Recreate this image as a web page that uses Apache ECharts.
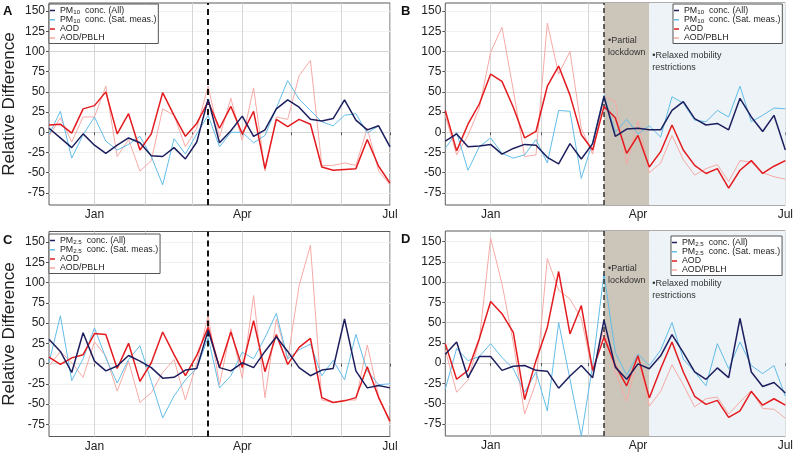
<!DOCTYPE html>
<html>
<head>
<meta charset="utf-8">
<script src="https://cdn.jsdelivr.net/npm/echarts@6/dist/echarts.min.js"></script>
<style>
html, body { margin: 0; padding: 0; background: #fff; }
#main { width: 796px; height: 456px; }
</style>
</head>
<body>
<div id="main"></div>
<script>
// weekly sample dates (x) and axis marks
var weeks = ['2019-12-04', '2019-12-11', '2019-12-18', '2019-12-25', '2020-01-01', '2020-01-08',
  '2020-01-15', '2020-01-22', '2020-01-29', '2020-02-05', '2020-02-12', '2020-02-19', '2020-02-26',
  '2020-03-04', '2020-03-11', '2020-03-18', '2020-03-25', '2020-04-01', '2020-04-08', '2020-04-15',
  '2020-04-22', '2020-04-29', '2020-05-06', '2020-05-13', '2020-05-20', '2020-05-27', '2020-06-03',
  '2020-06-10', '2020-06-17', '2020-06-24', '2020-07-01'];
var monthTicks = ['2020-01-01', '2020-02-01', '2020-03-01', '2020-04-01', '2020-05-01', '2020-06-01', '2020-07-01'];
var monthLabels = ['2020-01-01', '2020-04-01', '2020-07-01'];
var monthNames = ['Jan', 'Feb', 'Mar', 'Apr', 'May', 'Jun', 'Jul', 'Aug', 'Sep', 'Oct', 'Nov', 'Dec'];
var yTicks = [-75, -50, -25, 0, 25, 50, 75, 100, 125, 150];
var lockdownStart = '2020-03-11';
var relaxStart = '2020-04-08';
var axisEnd = '2020-07-01';

// A - PM10, left
var a_pm10All = [5, -7, -19, -2, -16, -26, -16, -7, -13, -29, -30, -19, -33, -12, 41, -13, 2, 20, -5, 3, 29, 40, 31, 16, 14, 17, 40, 15, 3, 8, -18];
var a_pm10Sat = [-3, 26, -32, -3, 19, -11, -22, -15, -5, -30, -65, -8, -27, -2, 21, -18, 0, 0, -13, -4, 30, 64, 41, 27, 13, 8, 21, 23, -1, 8, -18];
var a_aod = [9, 10, -1, 29, 33, 50, -2, 23, -22, -2, 49, 21, -5, 11, 38, 5, 32, -2, 26, -45, 16, 7, 16, 10, -43, -47, -46, -45, -9, -42, -63];
var a_aodPblh = [-5, 18, -12, 19, 19, 57, -30, -9, -48, -35, 29, 21, -18, 5, 57, -6, 42, -10, 55, -48, 19, 16, 70, 89, -41, -41, -38, -41, 5, -48, -65];

// B - PM10, right
var b_pm10All = [-11, -2, -18, -17, -15, -27, -20, -15, -16, -31, -39, -14, -33, -14, 44, -5, 4, 5, 3, 3, 27, 38, 17, 9, 11, 3, 42, 19, 1, 21, -22];
var b_pm10Sat = [-20, 0, -47, -18, -7, -26, -32, -28, -9, -38, 27, 26, -57, -12, 46, 0, 16, -2, 8, -6, 44, 36, 15, 13, 27, 19, 57, 13, 21, 30, 29];
var b_aod = [27, -23, 10, 35, 72, 63, 31, -7, 1, 57, 82, 46, -3, -22, 32, 18, -26, -4, -43, -24, 9, -22, -41, -51, -45, -69, -47, -35, -51, -42, -35];
var b_aodPblh = [21, -28, -4, 30, 99, 130, 52, -30, -28, 135, 72, 100, 5, -27, 44, 38, -40, 14, -50, -38, -4, -34, -53, -45, -40, -61, -35, -37, -50, -55, -58];

// C - PM2.5, left
var c_pm25All = [30, 15, -11, 38, 3, -9, -3, 10, 3, -5, -18, -17, -8, -6, 41, -5, -9, 1, -5, 15, 33, 15, -5, -15, -8, -6, 55, -9, -30, -27, -30];
var c_pm25Sat = [1, 59, -21, 6, 44, 7, -24, 5, 22, -22, -67, -40, -20, -6, 32, -30, -15, 14, 6, 32, 62, 6, 17, 24, -15, 4, -20, 36, -9, -26, -25];
var c_aod = [8, -1, 7, 11, 37, 36, -6, 25, -22, 1, 39, 11, -15, 10, 45, -5, 39, -5, 53, -10, 36, -1, 20, 31, -42, -48, -46, -42, -4, -42, -71];
var c_aodPblh = [-3, 15, 1, -17, 27, 9, -34, 3, -48, -36, -11, 5, -45, 1, 59, -26, 43, -18, 84, -42, 55, 5, 96, 146, -45, -48, -45, -45, 23, -40, -74];

// D - PM2.5, right
var d_pm25All = [11, 26, -18, 8, 8, -9, -4, -3, -9, -10, -31, -16, -3, -18, 53, -5, -20, -1, -7, 9, 35, 13, -11, -20, -6, -18, 55, -11, -29, -24, -37];
var d_pm25Sat = [-32, 18, 3, 8, 24, 7, -7, -36, -11, -59, 50, -20, -90, -3, 110, 13, -15, 11, -3, 16, 50, 5, -11, -28, 24, -7, 26, -3, -13, -3, -41];
var d_aod = [24, -20, -9, 30, 76, 61, 38, -45, 3, 44, 113, 36, 71, -9, 32, -3, -28, 9, -43, -7, 26, -11, -41, -51, -46, -67, -59, -35, -52, -44, -52];
var d_aodPblh = [16, -36, -21, 28, 154, 98, 25, -63, -24, 129, 90, 79, 55, -11, 42, -11, -47, 7, -53, -35, -2, -27, -54, -44, -42, -63, -48, -34, -56, -57, -68];

var chart = echarts.init(document.getElementById('main'));
var FONT = '"Liberation Sans", Arial, Helvetica, sans-serif';

var lineColors = ['#1c1e5e', '#62bde8', '#e31b1e', '#f6aaa5'];
var lineWidths = [1.5, 1, 1.5, 1];
var lineZ = [6, 4, 5, 3];

// date string -> timestamp (x axis is a plain value axis of time)
function ts(s) { return new Date(s + 'T00:00:00').getTime(); }

var panels = [
  { letter: 'A', left: 47.7, top: 3, width: 342.3, height: 202, ymax: 160, pm: 'PM10',
    series: [a_pm10All, a_pm10Sat, a_aod, a_aodPblh], shade: false, lgLeft: 49, lgTop: 4, yName: 'Relative Difference' },
  { letter: 'B', left: 445.3, top: 3, width: 341.4, height: 202, ymax: 160, pm: 'PM10',
    series: [b_pm10All, b_pm10Sat, b_aod, b_aodPblh], shade: true, lgLeft: 673, lgTop: 4, yName: '' },
  { letter: 'C', left: 48, top: 231.5, width: 342, height: 205, ymax: 163, pm: 'PM2.5',
    series: [c_pm25All, c_pm25Sat, c_aod, c_aodPblh], shade: false, lgLeft: 49, lgTop: 234, yName: 'Relative Difference' },
  { letter: 'D', left: 445.3, top: 231, width: 341.4, height: 205, ymax: 163, pm: 'PM2.5',
    series: [d_pm25All, d_pm25Sat, d_aod, d_aodPblh], shade: true, lgLeft: 671, lgTop: 236, yName: '' }
];

function pairs(vals) {
  var out = [];
  for (var i = 0; i < vals.length; i++) out.push([ts(weeks[i]), vals[i]]);
  return out;
}

// 0, 50, 100 darker grid lines
var ySplitColors = ['#f1f1f1', '#f1f1f1', '#f1f1f1', '#d4d4d4', '#f1f1f1', '#d4d4d4', '#f1f1f1', '#d4d4d4', '#f1f1f1', '#f1f1f1'];

var option = { animation: false, title: [], grid: [], xAxis: [], yAxis: [], legend: [], series: [] };

panels.forEach(function (p, i) {
  var names = [p.pm + ' conc. (All)', p.pm + ' conc. (Sat. meas.)', 'AOD', 'AOD/PBLH'];

  option.title.push({
    text: p.letter, left: p.left < 100 ? 3 : 401, top: p.top + 2, padding: 0,
    textStyle: { fontSize: 13, fontWeight: 'bold', color: '#111', fontFamily: FONT }
  });

  option.grid.push({
    left: p.left, top: p.top, width: p.width, height: p.height,
    show: true, borderColor: '#5a5a5a', borderWidth: 1
  });

  option.xAxis.push({
    gridIndex: i, type: 'value', min: ts(weeks[0]), max: ts(axisEnd),
    axisLine: { show: false },
    axisTick: { show: true, customValues: monthTicks.map(ts), length: 3, lineStyle: { color: '#555' } },
    axisLabel: {
      customValues: monthLabels.map(ts), margin: 4, fontSize: 12, color: '#222', fontFamily: FONT,
      formatter: function (v) { return monthNames[new Date(v).getMonth()]; }
    },
    splitLine: { show: true, lineStyle: { color: '#d6d6d6', width: 1 } }
  });

  option.yAxis.push({
    gridIndex: i, type: 'value', min: -90, max: p.ymax,
    name: p.yName, nameLocation: 'middle', nameGap: 31, nameRotate: 90,
    nameTextStyle: { fontSize: 17, color: '#222', fontFamily: FONT },
    axisLine: { show: false },
    axisTick: { show: true, customValues: yTicks, length: 3, lineStyle: { color: '#555' } },
    axisLabel: { customValues: yTicks, margin: 4, fontSize: 12, color: '#222', fontFamily: FONT },
    splitLine: { show: true, lineStyle: { color: ySplitColors, width: 1 } }
  });

  option.legend.push({
    data: names, orient: 'vertical', left: p.lgLeft, top: p.lgTop,
    padding: [2, 2, 1, 1], itemGap: 0, itemWidth: 5, itemHeight: 1.5, icon: 'rect',
    backgroundColor: '#fff', borderColor: '#555', borderWidth: 1, selectedMode: false,
    formatter: function (name) {
      var m = name.match(/^PM([\d.]+)(.*)$/);
      return m ? '{t|PM}{s|' + m[1] + '}{t| ' + m[2] + '}' : '{t|' + name + '}';
    },
    textStyle: {
      fontFamily: FONT, color: '#222', fontSize: 8.8,
      rich: {
        t: { fontSize: 8.8, lineHeight: 9.5, fontFamily: FONT, color: '#222' },
        s: { fontSize: 6.2, lineHeight: 5, fontFamily: FONT, color: '#222', verticalAlign: 'bottom' }
      }
    }
  });

  // shaded periods
  if (p.shade) {
    option.series.push({
      type: 'line', name: 'shade' + i, xAxisIndex: i, yAxisIndex: i, data: [], z: -1, silent: true,
      markArea: {
        silent: true,
        data: [
          [{ xAxis: ts(lockdownStart), itemStyle: { color: '#ccc5b9' },
             label: { show: true, formatter: '\u2022Partial\nlockdown', position: [4, 32] } },
           { xAxis: ts(relaxStart) }],
          [{ xAxis: ts(relaxStart), itemStyle: { color: '#edf3f6' },
             label: { show: true, formatter: '\u2022Relaxed mobility\nrestrictions', position: [3, 47] } },
           { xAxis: ts(axisEnd) }]
        ],
        label: { fontSize: 9, lineHeight: 12, color: '#333', fontFamily: FONT, align: 'left', verticalAlign: 'top' }
      }
    });
  }

  // lockdown start line
  option.series.push({
    type: 'line', name: 'cut' + i, xAxisIndex: i, yAxisIndex: i, data: [], z: 1, silent: true,
    markLine: {
      silent: true, symbol: ['none', 'none'], label: { show: false },
      lineStyle: p.shade ? { type: [5, 3], color: '#333', width: 1.5 } : { type: [6, 4], color: '#111', width: 2 },
      data: [{ xAxis: ts(lockdownStart) }]
    }
  });

  for (var k = 0; k < 4; k++) {
    option.series.push({
      type: 'line', name: names[k], xAxisIndex: i, yAxisIndex: i, z: lineZ[k],
      data: pairs(p.series[k]), showSymbol: false, symbol: 'none',
      color: lineColors[k], lineStyle: { color: lineColors[k], width: lineWidths[k] }
    });
  }
});

chart.setOption(option);
</script>
</body>
</html>
